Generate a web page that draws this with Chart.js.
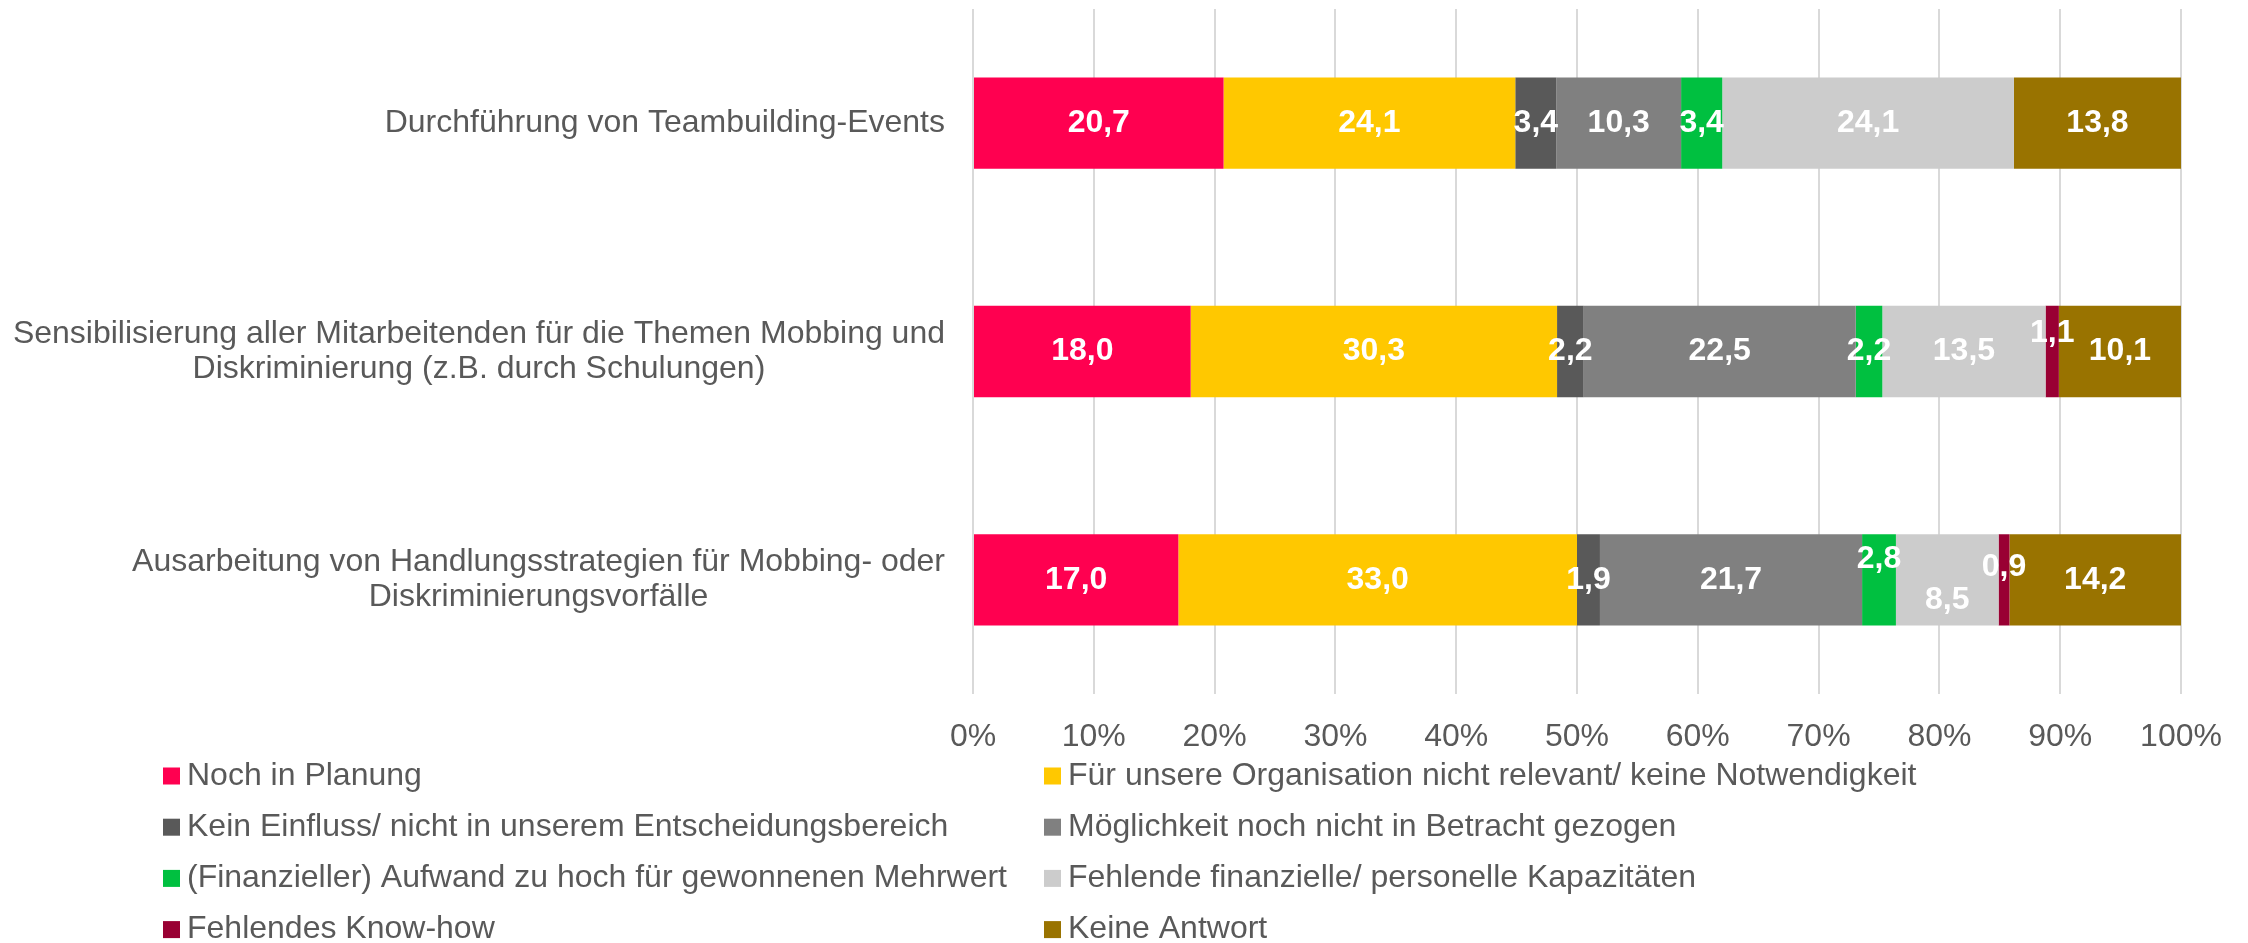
<!DOCTYPE html>
<html><head><meta charset="utf-8">
<script src="https://cdn.jsdelivr.net/npm/chart.js@4/dist/chart.umd.min.js"></script>
<style>html,body{margin:0;padding:0;background:#fff;overflow:hidden}canvas{display:block}</style>
</head><body>
<canvas id="c" width="2248" height="943"></canvas>
<script>
// ---- data ----
const categories = [
  ["Durchführung von Teambuilding-Events"],
  ["Sensibilisierung aller Mitarbeitenden für die Themen Mobbing und", "Diskriminierung (z.B. durch Schulungen)"],
  ["Ausarbeitung von Handlungsstrategien für Mobbing- oder", "Diskriminierungsvorfälle"]
];
const seriesNames = [
  "Noch in Planung",
  "Für unsere Organisation nicht relevant/ keine Notwendigkeit",
  "Kein Einfluss/ nicht in unserem Entscheidungsbereich",
  "Möglichkeit noch nicht in Betracht gezogen",
  "(Finanzieller) Aufwand zu hoch für gewonnenen Mehrwert",
  "Fehlende finanzielle/ personelle Kapazitäten",
  "Fehlendes Know-how",
  "Keine Antwort"
];
const nochInPlanung   = [20.7, 18.0, 17.0];
const nichtRelevant   = [24.1, 30.3, 33.0];
const keinEinfluss    = [3.4, 2.2, 1.9];
const nichtInBetracht = [10.3, 22.5, 21.7];
const aufwandZuHoch   = [3.4, 2.2, 2.8];
const kapazitaeten    = [24.1, 13.5, 8.5];
const knowHow         = [0, 1.1, 0.9];
const keineAntwort    = [13.8, 10.1, 14.2];
const xTickValues = [0, 10, 20, 30, 40, 50, 60, 70, 80, 90, 100];

// ---- styles ----
const seriesColors = ["#FF0050", "#FFC800", "#595959", "#808080", "#00C040", "#CCCCCC", "#990033", "#997300"];
const FONT = '"Liberation Sans", Arial, sans-serif';
const TEXT = '#595959';
// small vertical nudges for value labels (dataset index, category index -> px)
const labelNudges = { "6,1": -18, "4,2": -21, "6,2": -13, "5,2": 20 };

const seriesValues = [nochInPlanung, nichtRelevant, keinEinfluss, nichtInBetracht, aufwandZuHoch, kapazitaeten, knowHow, keineAntwort];
// 100%-stacked: each bar is scaled to its row total, labels show the raw values
const rowTotals = categories.map((_, i) => seriesValues.reduce((s, arr) => s + arr[i], 0));

const yLabelPlugin = {
  id: 'yLabels',
  afterDraw(chart) {
    const ctx = chart.ctx, ys = chart.scales.y;
    ctx.save();
    ctx.font = '32px ' + FONT;
    ctx.fillStyle = TEXT;
    ctx.textBaseline = 'middle';
    ctx.textAlign = 'center';
    const right = chart.chartArea.left - 28;
    const lh = 34.5;
    chart.data.labels.forEach((lines, i) => {
      const cy = ys.getPixelForValue(i);
      const w = Math.max(...lines.map(l => ctx.measureText(l).width));
      const cx = right - w / 2;
      lines.forEach((l, j) => ctx.fillText(l, cx, cy + (j - (lines.length - 1) / 2) * lh));
    });
    ctx.restore();
  }
};

const valueLabelPlugin = {
  id: 'valueLabels',
  afterDatasetsDraw(chart) {
    const ctx = chart.ctx;
    ctx.save();
    ctx.font = 'bold 32px ' + FONT;
    ctx.fillStyle = '#FFFFFF';
    ctx.textAlign = 'center';
    ctx.textBaseline = 'middle';
    chart.data.datasets.forEach((ds, di) => {
      const meta = chart.getDatasetMeta(di);
      meta.data.forEach((el, i) => {
        const v = ds.raw[i];
        if (!v) return;
        const cx = (el.x + el.base) / 2;
        const dy = labelNudges[di + ',' + i] || 0;
        ctx.fillText(v.toFixed(1).replace('.', ','), cx, el.y + dy);
      });
    });
    ctx.restore();
  }
};

const legendPlugin = {
  id: 'gridLegend',
  afterDraw(chart) {
    const ctx = chart.ctx;
    ctx.save();
    ctx.font = '32px ' + FONT;
    ctx.textBaseline = 'middle';
    ctx.textAlign = 'left';
    const colX = [163, 1044];
    const rowY0 = 776, rowStep = 51.2, box = 17;
    chart.data.datasets.forEach((ds, i) => {
      const col = i % 2, row = Math.floor(i / 2);
      const x = colX[col], y = rowY0 + row * rowStep;
      ctx.fillStyle = ds.backgroundColor;
      ctx.fillRect(x, y - box / 2, box, box);
      ctx.fillStyle = TEXT;
      ctx.fillText(ds.label, x + box + 7, y);
    });
    ctx.restore();
  }
};

new Chart(document.getElementById('c'), {
  type: 'bar',
  data: {
    labels: categories,
    datasets: seriesNames.map((n, i) => ({
      label: n,
      raw: seriesValues[i],
      data: seriesValues[i].map((v, j) => v / rowTotals[j] * 100),
      backgroundColor: seriesColors[i],
      borderWidth: 0,
      barPercentage: 0.4,
      categoryPercentage: 1
    }))
  },
  options: {
    responsive: false,
    devicePixelRatio: 1,
    animation: false,
    indexAxis: 'y',
    layout: { padding: { top: 9, right: 67, left: 0, bottom: 0 } },
    plugins: { legend: { display: false }, tooltip: { enabled: false } },
    scales: {
      x: {
        stacked: true, min: 0, max: 100,
        afterBuildTicks(s) { s.ticks = xTickValues.map(v => ({ value: v })); },
        ticks: { callback: v => v + '%', color: TEXT, font: { size: 32, family: FONT }, padding: 24, maxRotation: 0, autoSkip: false },
        grid: { color: '#D9D9D9', lineWidth: 2, drawTicks: false },
        border: { display: false },
        afterFit(s) { s.height = 249; }
      },
      y: {
        stacked: true,
        ticks: { display: false },
        grid: { display: false },
        border: { display: false },
        afterFit(s) { s.width = 973; }
      }
    }
  },
  plugins: [yLabelPlugin, valueLabelPlugin, legendPlugin]
});
</script>
</body></html>
